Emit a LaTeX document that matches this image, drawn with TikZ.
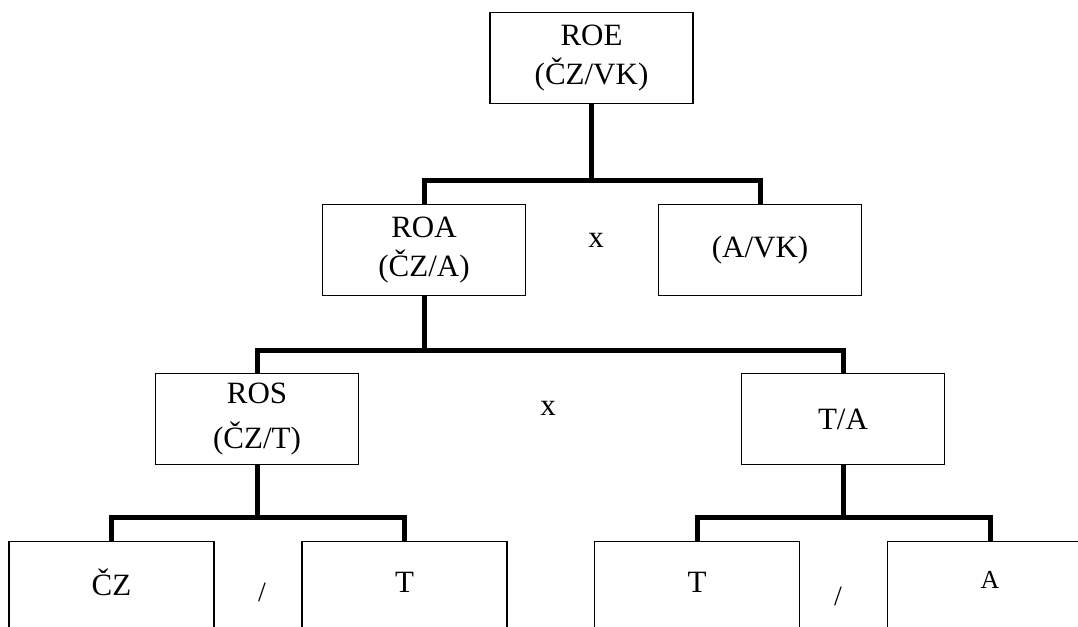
\documentclass[tikz,border=0pt]{standalone}
\usepackage{fontspec}
\setmainfont{Liberation Serif}
\begin{document}
\begin{tikzpicture}[x=1pt,y=-1pt,
  box/.style={draw, line width=1.3pt, minimum width=203pt, minimum height=91pt, inner sep=0pt, align=center, font=\fontsize{31}{39}\selectfont},
  bbox/.style={draw, line width=1.3pt, minimum width=205pt, minimum height=170pt, inner sep=0pt, anchor=north},
  conn/.style={line width=5pt, line join=miter},
  lbl/.style={inner sep=0pt, font=\fontsize{31}{36}\selectfont},
  slash/.style={inner sep=0pt, font=\fontsize{28}{32}\selectfont}]
\clip (0,0) rectangle (1078,626);
% top level
\node[box] (roe) at (591.5,58) {ROE\\(ČZ/VK)};
\node[box] (roa) at (424,250) {ROA\\(ČZ/A)};
\node[box] (avk) at (760,250) {(A/VK)};
\node[lbl] (x1) at (596,240) {x};
% middle level
\node[box, font=\fontsize{31}{45}\selectfont] (ros) at (257,419) {ROS\\(ČZ/T)};
\node[box] (ta) at (843,419) {T/A};
\node[lbl] (x2) at (548,408) {x};
% bottom level
\node[bbox] (czb) at (111.5,541) {};
\node[bbox] (t1b) at (404.5,541) {};
\node[bbox] (t2b) at (697,541) {};
\node[bbox] (ab) at (990,541) {};
\node[lbl] (cz) at (111.5,582) {ČZ};
\node[lbl] (t1) at (404.5,582) {T};
\node[lbl] (t2) at (697,582) {T};
\node[lbl, font=\fontsize{26}{30}\selectfont] (a) at (990,580) {A};
\node[slash] (s1) at (262,592) {/};
\node[slash] (s2) at (838,596) {/};
% connectors
\coordinate (j1) at (591.5,180);
\draw[conn] (roe.south) -- (j1);
\draw[conn] (roa.north) |- (j1) -| (avk.north);
\coordinate (j2) at (424,350);
\draw[conn] (roa.south) -- (j2);
\draw[conn] (ros.north) |- (j2) -| (ta.north);
\coordinate (j3) at (257,517);
\draw[conn] (ros.south) -- (j3);
\draw[conn] (czb.north) |- (j3) -| (t1b.north);
\coordinate (j4) at (843,517);
\draw[conn] (ta.south) -- (j4);
\draw[conn] (t2b.north) |- (j4) -| (ab.north);
\end{tikzpicture}
\end{document}
